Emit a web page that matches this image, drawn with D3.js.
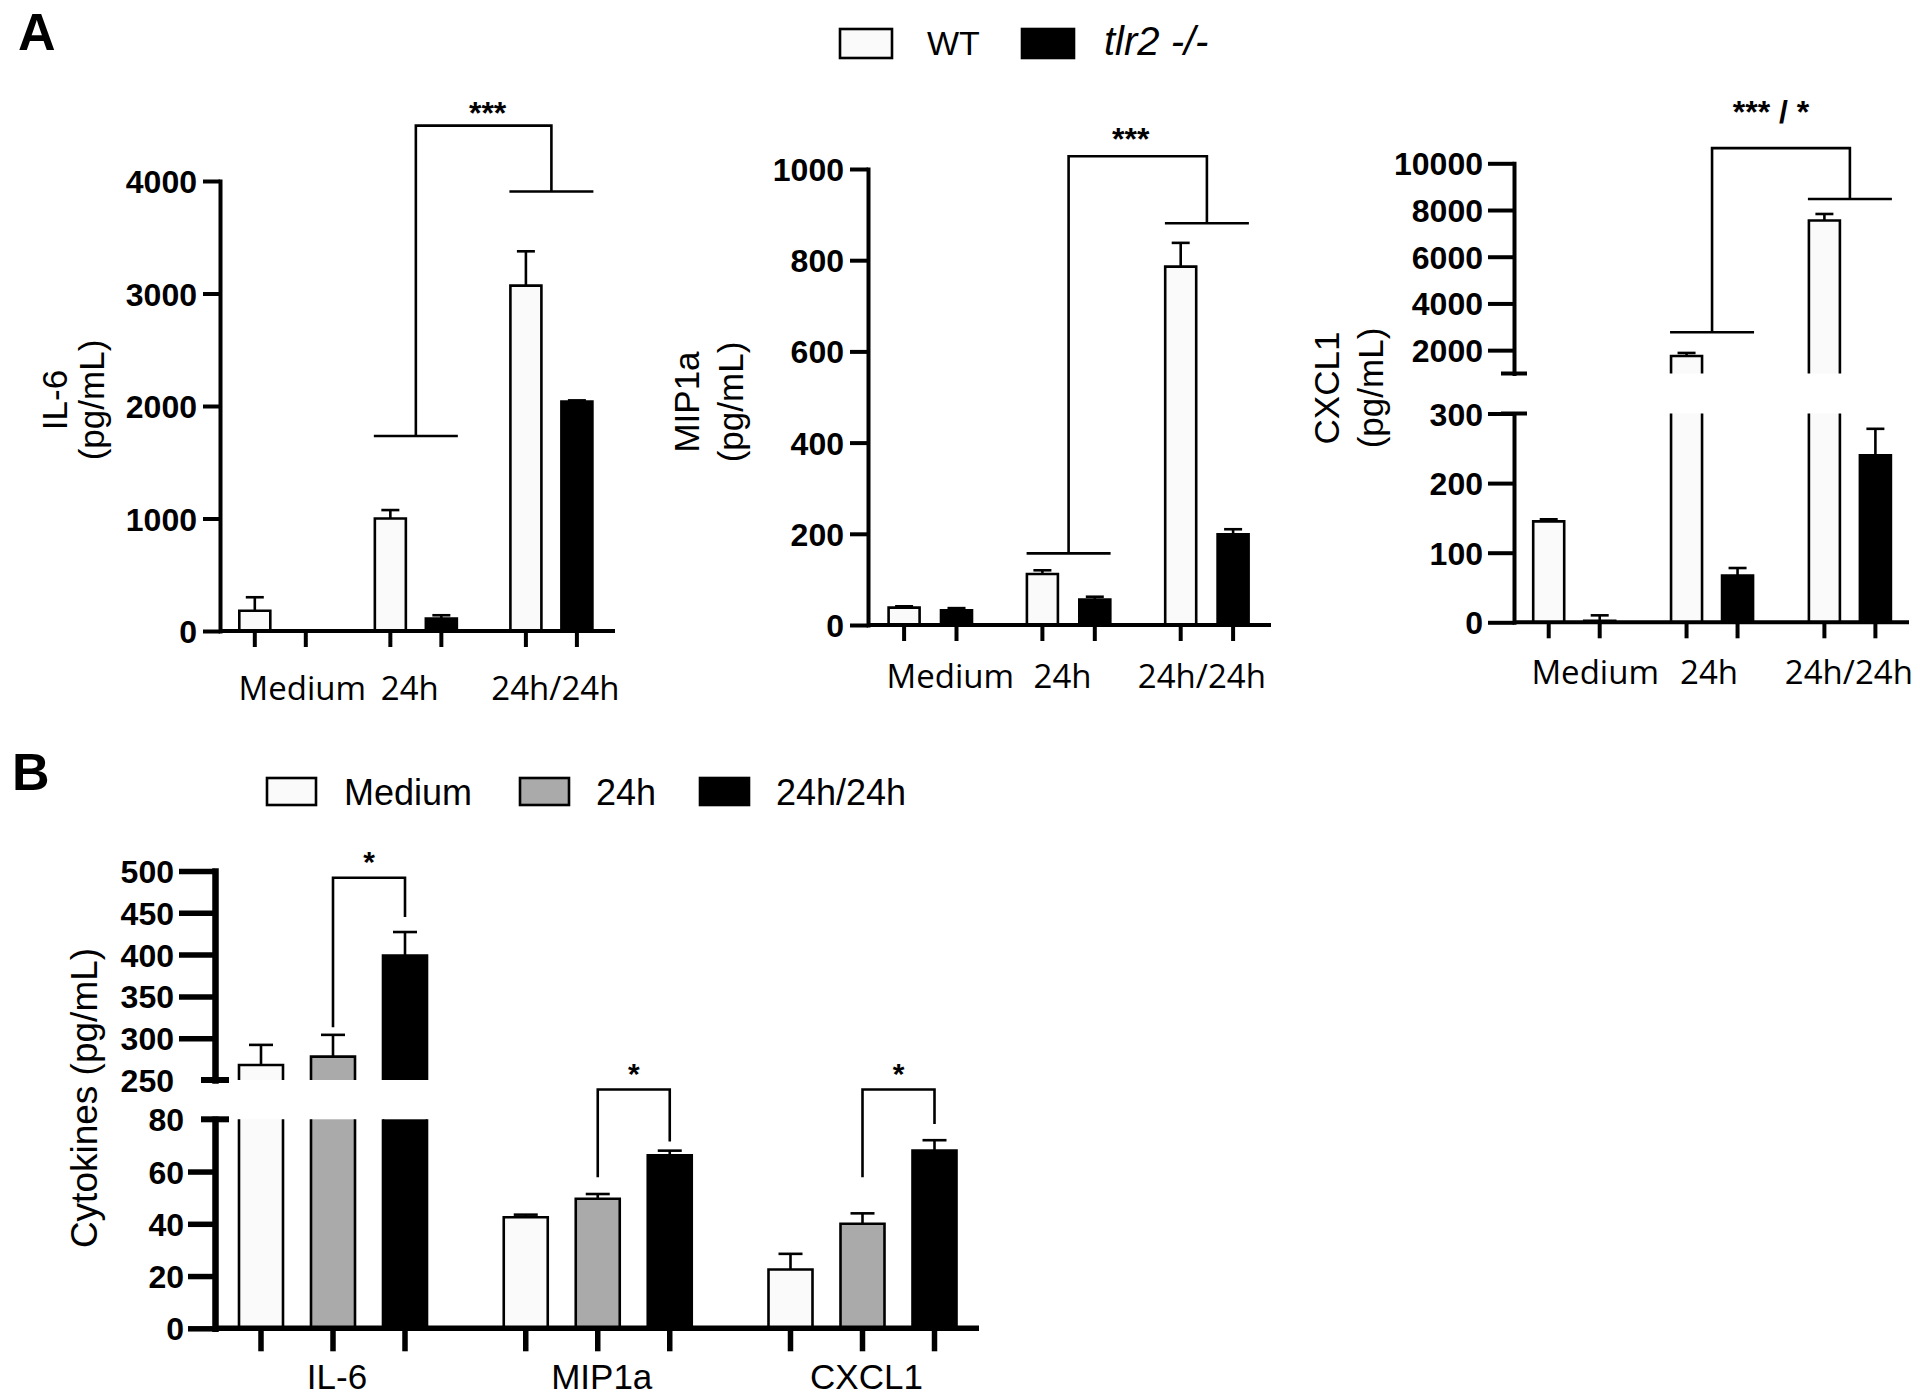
<!DOCTYPE html>
<html><head><meta charset="utf-8">
<script src="https://cdn.jsdelivr.net/npm/d3@7"></script>
<style>
body{margin:0;background:#fff;}
svg{display:block;}
</style></head><body>
<svg id="chart" width="1920" height="1398"></svg>
<script>
// ---------------- DATA ----------------
const groupsA = ["Medium", "24h", "24h/24h"];
const seriesA = ["WT", "tlr2 -/-"];
const il6WT = [180, 1000, 3070], il6WTErr = [120, 75, 305];
const il6KO = [0, 110, 2040],    il6KOErr = [0, 30, 10];
const mipWT = [38, 112, 786],    mipWTErr = [3, 8, 52];
const mipKO = [32, 56, 199],     mipKOErr = [5, 6, 11];
const cxWT  = [145, 1750, 7550], cxWTErr  = [3, 130, 280];
const cxKO  = [2, 67, 240],      cxKOErr  = [8, 11, 38];
const il6Ticks = [0, 1000, 2000, 3000, 4000];
const mipTicks = [0, 200, 400, 600, 800, 1000];
const cxLowTicks = [0, 100, 200, 300];
const cxHighTicks = [2000, 4000, 6000, 8000, 10000];
// significance (A): label, level over 24h group, level over 24h/24h group, bracket top (data units)
const sigIL6 = ["***", 1733, 3907, 4492];
const sigMIP = ["***", 157, 881, 1028];
const sigCX  = ["*** / *", 2767, 8471, 10651];

const cytokines = ["IL-6", "MIP1a", "CXCL1"];
const conditions = ["Medium", "24h", "24h/24h"];
const bMedium = [268, 42.5, 22.5], bMediumErr = [24, 1, 6];
const b24h    = [278, 49.6, 40],   b24hErr    = [26, 1.8, 4];
const b2424   = [399, 66.2, 68],   b2424Err   = [28, 1.8, 4];
const bLowTicks = [0, 20, 40, 60, 80];
const bHighTicks = [250, 300, 350, 400, 450, 500];
// significance (B): [label, axis segment, left drop end, right drop end, top]
const sigB = [["*", 1, 313, 445, 492], ["*", 0, 57.8, 71.5, 91.4], ["*", 0, 57.8, 78.2, 91.4]];

// ---------------- HELPERS ----------------
const ARIAL = '"Liberation Sans", Arial, sans-serif';
const OPEN = '"Open Sans", sans-serif';
const svg = d3.select("#chart");
function txt(g){ return g.append("text").style("font-family", ARIAL).attr("fill", "#000"); }
function makeSegs(defs){ return defs.map(s => ({d:s.d, r:s.r, sc:d3.scaleLinear().domain(s.d).range(s.r)})); }
function yOf(segs, v){ for (const s of segs) if (v <= s.d[1]) return s.sc(v); return segs[segs.length-1].sc(v); }

function drawBar(g, cx, w, v, segs, fill, sw){
  segs.forEach((s, i) => {
    if (v <= s.d[0] && i > 0) return;
    const topV = Math.min(v, s.d[1]);
    const yb = s.sc(s.d[0]), yt = s.sc(topV);
    const closed = v <= s.d[1];
    const l = cx - w/2, r = cx + w/2;
    g.append("rect").attr("x", l).attr("y", yt).attr("width", w).attr("height", Math.max(0, yb - yt)).attr("fill", fill);
    const p = d3.path();
    p.moveTo(l, yb); p.lineTo(l, yt);
    if (closed) p.lineTo(r, yt); else p.moveTo(r, yt);
    p.lineTo(r, yb);
    g.append("path").attr("d", p.toString()).attr("fill", "none").attr("stroke", "#000").attr("stroke-width", sw);
  });
}
function drawErr(g, cx, v, e, segs, cap, sw){
  if (!e) return;
  const y1 = yOf(segs, v), y2 = yOf(segs, v + e);
  g.append("line").attr("x1", cx).attr("x2", cx).attr("y1", y1).attr("y2", y2).attr("stroke", "#000").attr("stroke-width", sw);
  g.append("line").attr("x1", cx - cap/2).attr("x2", cx + cap/2).attr("y1", y2).attr("y2", y2).attr("stroke", "#000").attr("stroke-width", sw);
}
function styleAxis(ga, sw, tsw, fs){
  ga.attr("font-family", null).attr("font-size", null);
  ga.select(".domain").attr("stroke", "#000").attr("stroke-width", sw).attr("stroke-linecap", "square");
  ga.selectAll(".tick line").attr("stroke", "#000").attr("stroke-width", tsw);
  ga.selectAll(".tick text").attr("fill", "#000").style("font-family", ARIAL)
    .attr("font-weight", "bold").attr("font-size", fs).attr("dy", "0.36em");
}

// ---------------- PANEL A ----------------
const panelsA = [
  {wt:il6WT, wtE:il6WTErr, ko:il6KO, koE:il6KOErr, ticks:[il6Ticks], sig:sigIL6, title:"IL-6",
   ax:220, axEnd:615, cr:[280.3, 551.4], off:25.5, segs:[{d:[0,4000], r:[631,181]}], tl:17, tp:6,
   labY:700, labDx:[22,-6,4], titleX:[67, 104], titleY:400, sigDx:4, sigY:-2},
  {wt:mipWT, wtE:mipWTErr, ko:mipKO, koE:mipKOErr, ticks:[mipTicks], sig:sigMIP, title:"MIP1a",
   ax:868, axEnd:1271, cr:[930.3, 1206.9], off:26.2, segs:[{d:[0,1000], r:[625,169]}], tl:18, tp:6,
   labY:688, labDx:[20,-6,-5], titleX:[699, 743], titleY:402, sigDx:-7, sigY:-6},
  {wt:cxWT, wtE:cxWTErr, ko:cxKO, koE:cxKOErr, ticks:[cxLowTicks, cxHighTicks], sig:sigCX, title:"CXCL1",
   ax:1514, axEnd:1909, cr:[1574.2, 1849.9], off:25.5, segs:[{d:[0,300], r:[622.3,413.5]}, {d:[1000,10000], r:[373.5,163.3]}], tl:26, tp:5,
   labY:684, labDx:[21,-3,-1], titleX:[1339, 1383], titleY:388, sigDx:-10, sigY:-25}
];

panelsA.forEach(cfg => {
  const g = svg.append("g");
  const segs = makeSegs(cfg.segs);
  const x0 = d3.scalePoint().domain(groupsA).range(cfg.cr);
  const x1 = d3.scalePoint().domain(seriesA).range([-cfg.off, cfg.off]);
  const ser = [{n:seriesA[0], v:cfg.wt, e:cfg.wtE, f:"#fafafa"}, {n:seriesA[1], v:cfg.ko, e:cfg.koE, f:"#000"}];
  const y0 = segs[0].sc(0);
  ser.forEach(s => groupsA.forEach((grp, i) => {
    const cx = x0(grp) + x1(s.n);
    drawBar(g, cx, 31, s.v[i], segs, s.f, 2.6);
    drawErr(g, cx, s.v[i], s.e[i], segs, 18, 2.6);
  }));
  g.append("line").attr("x1", cfg.ax).attr("x2", cfg.axEnd).attr("y1", y0).attr("y2", y0).attr("stroke", "#000").attr("stroke-width", 4);
  ser.forEach(s => groupsA.forEach(grp => {
    const cx = x0(grp) + x1(s.n);
    g.append("line").attr("x1", cx).attr("x2", cx).attr("y1", y0).attr("y2", y0 + 16).attr("stroke", "#000").attr("stroke-width", 4);
  }));
  segs.forEach((s, i) => {
    const axis = d3.axisLeft(s.sc).tickValues(cfg.ticks[i]).tickSize(cfg.tl).tickSizeOuter(0).tickPadding(cfg.tp).tickFormat(d3.format("d"));
    const ga = g.append("g").attr("transform", `translate(${cfg.ax},0)`).call(axis);
    styleAxis(ga, 4, 4, 32);
  });
  if (segs.length > 1) {
    [segs[0].sc(segs[0].d[1]), segs[1].sc(segs[1].d[0])].forEach(yy => {
      g.append("line").attr("x1", cfg.ax - 13).attr("x2", cfg.ax + 13).attr("y1", yy).attr("y2", yy).attr("stroke", "#000").attr("stroke-width", 4);
    });
  }
  groupsA.forEach((grp, i) => {
    txt(g).style("font-family", OPEN).attr("x", x0(grp) + cfg.labDx[i]).attr("y", cfg.labY).attr("text-anchor", "middle")
      .attr("font-size", 33).text(grp);
  });
  const t = txt(g).attr("transform", `translate(0,${cfg.titleY}) rotate(-90)`).attr("text-anchor", "middle").attr("font-size", 35);
  t.append("tspan").attr("x", 0).attr("y", cfg.titleX[0]).text(cfg.title);
  t.append("tspan").attr("x", 0).attr("y", cfg.titleX[1]).text("(pg/mL)");
  const cL = x0(groupsA[1]), cR = x0(groupsA[2]);
  const yL = yOf(segs, cfg.sig[1]), yR = yOf(segs, cfg.sig[2]), yT = yOf(segs, cfg.sig[3]);
  const p = d3.path();
  p.moveTo(cL - 42, yL); p.lineTo(cL + 42, yL);
  p.moveTo(cR - 42, yR); p.lineTo(cR + 42, yR);
  p.moveTo(cL, yL); p.lineTo(cL, yT); p.lineTo(cR, yT); p.lineTo(cR, yR);
  g.append("path").attr("d", p.toString()).attr("fill", "none").attr("stroke", "#000").attr("stroke-width", 2.6);
  txt(g).attr("x", (cL + cR)/2 + cfg.sigDx).attr("y", yT + cfg.sigY).attr("text-anchor", "middle")
    .attr("font-weight", "bold").attr("font-size", 32).text(cfg.sig[0]);
});

txt(svg).attr("x", 18).attr("y", 50).attr("font-weight", "bold").attr("font-size", 52).text("A");
const legA = [{n:seriesA[0], f:"#fafafa", bx:840, tx:927, it:false, fs:34}, {n:seriesA[1], f:"#000", bx:1022, tx:1104, it:true, fs:40}];
legA.forEach(l => {
  svg.append("rect").attr("x", l.bx).attr("y", 29).attr("width", 52).attr("height", 29).attr("fill", l.f).attr("stroke", "#000").attr("stroke-width", 2.6);
  txt(svg).attr("x", l.tx).attr("y", 55).attr("font-size", l.fs).attr("font-style", l.it ? "italic" : "normal").text(l.n);
});

// ---------------- PANEL B ----------------
(function(){
  const g = svg.append("g");
  const segs = makeSegs([{d:[0,80], r:[1328.3,1119.3]}, {d:[250,500], r:[1080,871]}]);
  const x0 = d3.scalePoint().domain(cytokines).range([333, 862.5]);
  const x1 = d3.scalePoint().domain(conditions).range([-72, 72]);
  const ser = [{n:conditions[0], v:bMedium, e:bMediumErr, f:"#fafafa"}, {n:conditions[1], v:b24h, e:b24hErr, f:"#aaaaaa"}, {n:conditions[2], v:b2424, e:b2424Err, f:"#000"}];
  const y0 = segs[0].sc(0);
  ser.forEach(s => cytokines.forEach((c, i) => {
    const cx = x0(c) + x1(s.n);
    drawBar(g, cx, 44, s.v[i], segs, s.f, 2.6);
    drawErr(g, cx, s.v[i], s.e[i], segs, 24, 2.6);
  }));
  const ax = 215;
  g.append("line").attr("x1", ax).attr("x2", 979).attr("y1", y0).attr("y2", y0).attr("stroke", "#000").attr("stroke-width", 5.5);
  ser.forEach(s => cytokines.forEach(c => {
    const cx = x0(c) + x1(s.n);
    g.append("line").attr("x1", cx).attr("x2", cx).attr("y1", y0).attr("y2", y0 + 23).attr("stroke", "#000").attr("stroke-width", 5.5);
  }));
  const tls = [27, 36], tps = [4, 5], tv = [bLowTicks, bHighTicks];
  segs.forEach((s, i) => {
    const axis = d3.axisLeft(s.sc).tickValues(tv[i]).tickSize(tls[i]).tickSizeOuter(0).tickPadding(tps[i]).tickFormat(d3.format("d"));
    const ga = g.append("g").attr("transform", `translate(${ax},0)`).call(axis);
    styleAxis(ga, 6.5, 5.5, 32);
    ga.selectAll(".tick line").filter(d => d === 80 || d === 250).remove();
  });
  [segs[0].sc(80), segs[1].sc(250)].forEach(yy => {
    g.append("line").attr("x1", ax - 14).attr("x2", ax + 14).attr("y1", yy).attr("y2", yy).attr("stroke", "#000").attr("stroke-width", 6);
  });
  cytokines.forEach(c => {
    txt(g).attr("x", x0(c) + 4).attr("y", 1389).attr("text-anchor", "middle").attr("font-size", 35).text(c);
  });
  txt(g).attr("transform", "translate(97,1098) rotate(-90)").attr("text-anchor", "middle").attr("font-size", 37).text("Cytokines (pg/mL)");
  sigB.forEach((sg, i) => {
    const s = segs[sg[1]].sc;
    const cL = x0(cytokines[i]) + x1(conditions[1]), cR = x0(cytokines[i]) + x1(conditions[2]);
    const p = d3.path();
    p.moveTo(cL, s(sg[2])); p.lineTo(cL, s(sg[4])); p.lineTo(cR, s(sg[4])); p.lineTo(cR, s(sg[3]));
    g.append("path").attr("d", p.toString()).attr("fill", "none").attr("stroke", "#000").attr("stroke-width", 2.6);
    txt(g).attr("x", (cL + cR)/2).attr("y", s(sg[4]) - 6).attr("text-anchor", "middle").attr("font-weight", "bold").attr("font-size", 30).text(sg[0]);
  });
  const legB = [{n:conditions[0], f:"#fafafa", bx:267, tx:344}, {n:conditions[1], f:"#aaaaaa", bx:520, tx:596}, {n:conditions[2], f:"#000", bx:700, tx:776}];
  legB.forEach(l => {
    g.append("rect").attr("x", l.bx).attr("y", 778).attr("width", 49).attr("height", 27).attr("fill", l.f).attr("stroke", "#000").attr("stroke-width", 2.6);
    txt(g).attr("x", l.tx).attr("y", 805).attr("font-size", 36).text(l.n);
  });
  txt(svg).attr("x", 12).attr("y", 790).attr("font-weight", "bold").attr("font-size", 52).text("B");
})();
</script>
</body></html>
